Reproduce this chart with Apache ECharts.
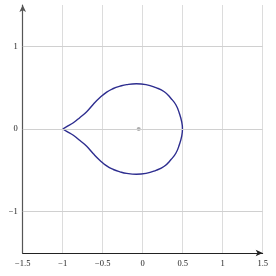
<!DOCTYPE html>
<html>
<head>
<meta charset="utf-8">
<script src="https://cdn.jsdelivr.net/npm/echarts@6/dist/echarts.min.js"></script>
<style>html,body{margin:0;padding:0;background:#fff}#c{width:276px;height:276px}</style>
</head>
<body>
<div id="c"></div>
<script>
// closed curve (starts and ends at the cusp)
const curveX = [-1.0, -0.95, -0.867, -0.784, -0.7, -0.617, -0.534, -0.45, -0.367, -0.284, -0.2, -0.08, 0.041, 0.166, 0.27, 0.354, 0.416, 0.458, 0.487, 0.497,
                0.487, 0.458, 0.416, 0.354, 0.27, 0.166, 0.041, -0.08, -0.2, -0.284, -0.367, -0.45, -0.534, -0.617, -0.7, -0.784, -0.867, -0.95, -1.0];
const curveY = [0, 0.028, 0.076, 0.14, 0.21, 0.3, 0.38, 0.447, 0.49, 0.518, 0.537, 0.547, 0.537, 0.5, 0.45, 0.37, 0.29, 0.19, 0.088, 0,
                -0.088, -0.19, -0.29, -0.37, -0.45, -0.5, -0.537, -0.547, -0.537, -0.518, -0.49, -0.447, -0.38, -0.3, -0.21, -0.14, -0.076, -0.028, 0];
const pointX = [-0.05];
const pointY = [0];
const xTicks = [-1.5, -1, -0.5, 0, 0.5, 1, 1.5];
const yGridValues = [-1, 0, 1];

const fmt = v => (v < 0 ? '\u2212' + String(-v) : String(v));
const font = { fontFamily: 'Liberation Serif', fontSize: 8.5, color: '#222' };

const chart = echarts.init(document.getElementById('c'), null, { renderer: 'canvas' });
chart.setOption({
  animation: false,
  grid: { left: 22.7, right: 13.3, top: 5, bottom: 23 },
  xAxis: {
    type: 'value', min: xTicks[0], max: xTicks[xTicks.length - 1], interval: 0.5,
    axisLine: { onZero: false, lineStyle: { color: '#222', width: 1 }, symbol: ['none', 'arrow'], symbolSize: [5, 7] },
    axisTick: { show: false },
    axisLabel: Object.assign({ margin: 6, formatter: fmt }, font),
    splitLine: { show: true, lineStyle: { color: '#dcdcdc', width: 1 } }
  },
  yAxis: {
    type: 'value', min: -1.5, max: 1.5, interval: 0.5,
    axisLine: { show: true, onZero: false, lineStyle: { color: '#555', width: 1.2 }, symbol: ['none', 'arrow'], symbolSize: [5, 7] },
    axisTick: { show: false },
    axisLabel: Object.assign({ margin: 5, formatter: v => (Number.isInteger(v) ? fmt(v) : '') }, font),
    splitLine: { show: false }
  },
  series: [
    {
      type: 'line', silent: true, symbol: 'none', data: [],
      markLine: {
        silent: true, symbol: 'none', label: { show: false },
        lineStyle: { color: '#d0d0d0', width: 1, type: 'solid' },
        data: yGridValues.map(v => ({ yAxis: v }))
      }
    },
    {
      type: 'line', symbol: 'none', smooth: 0.5, smoothMonotone: 'none',
      lineStyle: { color: '#2d2d8f', width: 1.4 },
      data: curveX.map((x, i) => [x, curveY[i]])
    },
    {
      type: 'scatter', symbol: 'circle', symbolSize: 4,
      itemStyle: { color: '#9a9a9a' },
      data: pointX.map((x, i) => [x, pointY[i]])
    }
  ]
});
</script>
</body>
</html>
